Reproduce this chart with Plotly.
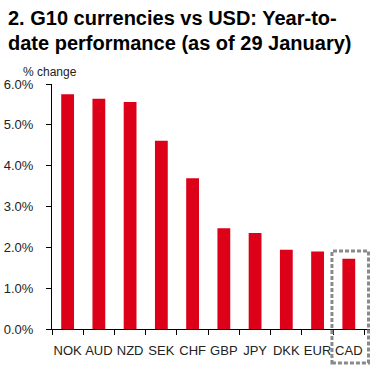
import plotly.graph_objects as go

currencies = ["NOK", "AUD", "NZD", "SEK", "CHF", "GBP", "JPY", "DKK", "EUR", "CAD"]
ytd_change = [5.75, 5.64, 5.56, 4.61, 3.69, 2.47, 2.35, 1.94, 1.90, 1.72]
y_ticks = [0, 1, 2, 3, 4, 5, 6]
y_labels = ["0.0%", "1.0%", "2.0%", "3.0%", "4.0%", "5.0%", "6.0%"]

fig = go.Figure(go.Bar(x=currencies, y=ytd_change, marker_color="#DC0019",
                       marker_line_width=0, width=0.41))

fig.update_layout(
    width=388, height=369,
    margin=dict(l=52, r=18, t=84, b=40, autoexpand=False),
    paper_bgcolor="white", plot_bgcolor="white",
    font=dict(family="Liberation Sans, Arial, sans-serif", size=13, color="#222"),
    showlegend=False,
)
fig.update_xaxes(showline=True, linecolor="black", linewidth=1, ticks="outside",
                 tickson="boundaries", ticklen=5, tickcolor="black", showgrid=False,
                 tickangle=0, ticklabelstandoff=9, automargin=False,
                 tickfont=dict(size=13, color="#222"))
fig.update_yaxes(range=[0, 6], tickvals=y_ticks, ticktext=y_labels, showline=True,
                 linecolor="black", linewidth=1, ticks="outside", ticklen=5,
                 tickcolor="black", showgrid=False, zeroline=False,
                 ticklabelstandoff=10, automargin=False,
                 tickfont=dict(size=13, color="#222"))
for i, line in enumerate(["2. G10 currencies vs USD: Year-to-",
                          "date performance (as of 29 January)"]):
    fig.add_annotation(text="<b>" + line + "</b>", xref="paper", yref="paper",
                       x=-0.146, y=1.269 - i * 0.1, xanchor="left", yanchor="middle",
                       showarrow=False, font=dict(size=20, color="black"))
fig.add_annotation(text="% change", xref="paper", yref="paper", x=-0.099, y=1.05,
                   xanchor="left", yanchor="middle", showarrow=False,
                   font=dict(size=12, color="#222"))
fig.add_shape(type="rect", xref="x", yref="paper", x0=8.46, x1=9.63, y0=-0.139, y1=0.318,
              line=dict(color="#8a8a8a", width=3, dash="4px,2px"))

fig.write_html("out.html", config={"displayModeBar": False},
               post_script="document.body.style.margin='0';")
